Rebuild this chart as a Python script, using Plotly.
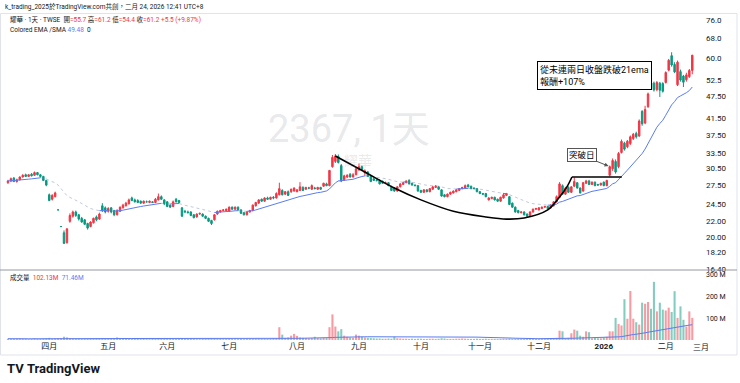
import pandas as pd
import numpy as np
import plotly.graph_objects as go

# ---------------- data ----------------
HOLIDAYS = ["2025-04-03", "2025-04-04", "2025-05-01", "2025-05-30", "2025-09-29",
            "2025-10-06", "2025-10-10", "2025-10-24", "2025-12-25", "2026-01-01",
            "2026-02-12", "2026-02-13", "2026-02-16", "2026-02-17", "2026-02-18",
            "2026-02-19", "2026-02-20"]
dates = pd.bdate_range("2025-03-12", "2026-02-24", freq="C", holidays=HOLIDAYS)

open_price = [
    # Mar
    27.9, 28.2, 28.7, 28.1, 28.4, 28.9, 29.3, 29.0, 29.4, 29.2, 29.7, 29.3, 29.0, 28.3,
    # Apr
    25.9, 25.2, 25.6, 23.6, 21.3, 20.5, 19.3, 22.0, 22.7, 23.3, 22.9, 22.4, 22.2, 21.7, 21.3, 21.8, 22.6, 22.3, 24.2, 23.9,
    # May
    23.4, 23.9, 23.5, 22.9, 23.4, 23.9, 24.2, 24.5, 25.4, 25.1, 25.0, 24.9, 24.6, 24.8, 24.7, 24.8, 24.7, 25.1, 25.6, 25.1,
    # Jun
    24.8, 24.3, 24.1, 25.2, 25.0, 23.9, 23.4, 23.3, 23.3, 22.9, 22.6, 23.0, 23.0, 22.7, 22.4, 22.1, 22.2, 23.0, 23.3, 23.5, 23.5,
    # Jul
    23.4, 24.0, 23.7, 24.0, 23.6, 23.2, 22.9, 23.3, 23.5, 24.2, 24.6, 25.2, 24.9, 25.4, 25.2, 25.5, 25.4, 25.9, 26.6, 26.0, 26.4, 26.4, 26.5,
    # Aug
    26.4, 26.6, 27.1, 26.8, 27.0, 26.8, 27.0, 26.8, 27.1, 27.3, 27.7, 27.4, 30.8, 31.8, 32.8, 31.0, 28.4, 28.9, 29.4, 28.9, 29.3,
    # Sep
    30.2, 30.8, 29.6, 29.8, 29.0, 28.6, 28.4, 28.3, 28.1, 27.9, 27.9, 27.2, 27.0, 26.5, 27.2, 27.6, 27.9, 28.3, 27.8, 27.5, 27.4,
    # Oct
    26.6, 26.3, 26.7, 26.4, 26.8, 27.1, 27.2, 26.7, 25.9, 25.6, 26.0, 26.2, 26.4, 26.6, 26.9, 27.0, 27.5, 27.3, 27.0, 26.9,
    # Nov
    26.4, 26.1, 26.1, 25.1, 25.3, 25.5, 25.2, 24.9, 25.4, 25.8, 25.6, 24.6, 24.0, 23.5, 23.2, 23.3, 23.0, 22.8, 23.3, 23.7,
    # Dec
    23.6, 23.8, 24.0, 24.1, 23.9, 24.2, 24.8, 25.5, 27.4, 26.0, 27.1, 26.3, 27.3, 27.9, 27.0, 26.5, 27.8, 28.2, 27.6, 28.0, 27.6, 27.5,
    # Jan
    28.0, 27.4, 29.2, 30.4, 31.8, 30.8, 33.6, 35.6, 34.8, 35.5, 36.6, 37.8, 37.2, 43.3, 40.3, 44.6, 51.6, 51.5, 49.5, 51.5, 51.4,
    # Feb
    51.7, 55.8, 61.0, 57.8, 51.0, 55.3, 53.8, 52.6, 53.6, 55.7,
]
high_price = [
    28.4, 28.8, 28.9, 28.6, 29.0, 29.4, 29.5, 29.4, 29.6, 29.9, 29.8, 29.4, 29.1, 28.4,
    26.1, 26.0, 26.4, 23.6, 21.3, 20.8, 21.05, 23.1, 23.5, 23.5, 23.0, 22.6, 22.3, 21.8, 22.0, 22.5, 22.8, 23.2, 24.6, 24.1,
    24.0, 24.0, 23.6, 23.7, 24.1, 24.5, 24.8, 25.3, 25.6, 25.3, 25.2, 25.0, 25.0, 25.0, 25.0, 24.9, 25.4, 26.1, 25.8, 25.2,
    24.9, 24.4, 25.0, 25.4, 25.1, 24.0, 23.6, 23.5, 23.4, 23.0, 23.1, 23.2, 23.1, 22.8, 22.5, 22.2, 23.0, 23.5, 23.6, 23.7, 23.8,
    24.1, 24.1, 24.1, 24.1, 23.7, 23.3, 23.4, 23.6, 24.4, 24.8, 25.2, 25.3, 25.5, 25.6, 25.6, 25.7, 26.3, 27.9, 26.8, 26.5, 26.6, 26.9, 27.1,
    26.8, 28.0, 27.3, 27.2, 27.2, 27.6, 27.2, 27.2, 27.2, 27.9, 27.9, 30.1, 33.1, 33.3, 33.2, 31.3, 29.3, 29.4, 29.6, 29.6, 30.6,
    31.4, 31.0, 30.3, 30.0, 29.2, 28.8, 28.6, 28.5, 28.3, 28.1, 28.0, 27.4, 27.1, 27.3, 27.8, 28.0, 28.3, 28.5, 27.9, 27.6, 27.5,
    26.7, 26.8, 26.8, 27.0, 27.3, 27.5, 27.3, 26.8, 26.0, 26.1, 26.4, 26.6, 26.8, 27.0, 27.2, 27.6, 27.7, 27.4, 27.1, 27.0,
    26.5, 26.2, 26.2, 25.5, 25.6, 25.6, 25.3, 25.6, 26.2, 26.2, 25.7, 24.7, 24.1, 23.6, 23.4, 23.4, 23.1, 23.4, 23.8, 23.9,
    24.0, 24.1, 24.2, 24.2, 24.4, 24.9, 25.8, 28.0, 27.6, 27.2, 27.3, 27.3, 28.8, 28.0, 27.1, 28.0, 28.4, 28.4, 28.1, 28.1, 27.7, 27.9,
    28.1, 28.4, 31.0, 32.4, 32.2, 33.7, 36.4, 35.9, 36.3, 37.3, 37.9, 38.2, 41.2, 43.6, 44.8, 48.6, 52.5, 52.0, 52.2, 51.9, 51.8,
    55.4, 59.8, 62.3, 58.6, 59.2, 56.0, 54.2, 54.9, 56.2, 61.2,
]
low_price = [
    27.7, 28.0, 28.0, 27.9, 28.3, 28.8, 28.9, 28.9, 29.0, 29.1, 29.2, 28.8, 28.2, 27.3,
    24.9, 25.0, 25.5, 23.6, 21.3, 19.15, 19.15, 21.8, 22.5, 22.6, 22.1, 21.8, 21.5, 20.9, 21.2, 21.7, 22.0, 22.2, 23.3, 23.1,
    23.2, 23.1, 22.7, 22.8, 23.3, 23.8, 24.1, 24.4, 24.9, 24.7, 24.6, 24.5, 24.5, 24.7, 24.6, 24.6, 24.6, 25.0, 25.1, 24.3,
    24.0, 23.9, 24.0, 24.7, 24.6, 22.6, 23.2, 23.1, 22.7, 22.4, 22.5, 22.9, 22.6, 22.3, 21.9, 21.5, 22.1, 22.9, 23.2, 23.4, 23.4,
    23.3, 23.6, 23.6, 23.5, 23.0, 22.8, 22.8, 23.2, 23.4, 24.1, 24.5, 24.8, 24.8, 25.1, 25.1, 25.2, 25.3, 25.8, 25.8, 25.9, 25.7, 26.2, 26.4,
    26.3, 26.5, 26.5, 26.7, 26.8, 26.7, 26.8, 26.7, 26.7, 27.2, 27.3, 27.3, 30.6, 31.5, 31.4, 28.0, 28.2, 28.7, 28.8, 28.8, 29.2,
    30.0, 30.0, 29.1, 28.9, 28.0, 28.2, 28.1, 27.6, 27.7, 27.7, 27.3, 26.5, 26.4, 26.4, 27.1, 27.5, 27.8, 27.6, 27.4, 27.3, 26.4,
    26.2, 26.2, 26.3, 26.3, 26.7, 27.0, 26.7, 25.6, 25.5, 25.5, 25.9, 26.1, 26.3, 26.5, 26.8, 26.9, 27.1, 26.8, 26.8, 26.3,
    26.0, 25.9, 25.5, 25.0, 25.2, 25.0, 24.8, 24.8, 25.3, 25.7, 24.3, 23.9, 23.2, 23.1, 23.1, 22.8, 22.5, 22.7, 23.2, 23.6,
    23.5, 23.7, 23.9, 23.7, 23.8, 24.1, 24.7, 25.4, 25.9, 25.9, 26.2, 26.2, 27.2, 26.9, 26.1, 26.4, 27.7, 27.5, 27.5, 27.3, 27.4, 27.4,
    27.3, 27.3, 29.0, 30.0, 29.5, 30.5, 33.4, 34.0, 34.5, 35.2, 36.3, 36.6, 37.0, 39.6, 40.0, 44.2, 49.6, 48.9, 49.0, 47.3, 48.6,
    51.4, 55.4, 57.0, 54.8, 50.6, 52.0, 50.3, 52.0, 53.2, 54.4,
]
close_price = [
    28.2, 28.6, 28.1, 28.4, 28.9, 29.2, 29.0, 29.3, 29.1, 29.7, 29.3, 29.0, 28.3, 27.5,
    25.0, 25.8, 26.2, 23.6, 21.3, 19.2, 21.0, 22.8, 23.3, 22.8, 22.3, 21.9, 21.6, 21.1, 21.9, 22.4, 22.2, 23.0, 23.5, 23.3,
    23.8, 23.3, 22.9, 23.5, 24.0, 24.3, 24.6, 25.1, 25.0, 24.8, 24.7, 24.6, 24.9, 24.8, 24.9, 24.7, 25.2, 25.6, 25.2, 24.5,
    24.1, 24.0, 24.8, 24.8, 24.7, 22.7, 23.3, 23.2, 22.8, 22.5, 23.0, 23.1, 22.7, 22.4, 22.0, 21.7, 22.9, 23.4, 23.5, 23.6, 23.7,
    24.0, 23.7, 24.0, 23.6, 23.1, 22.9, 23.3, 23.5, 24.3, 24.7, 25.1, 24.9, 25.4, 25.2, 25.5, 25.4, 26.1, 26.9, 25.9, 26.4, 25.8, 26.8, 27.0,
    26.7, 27.2, 26.6, 27.1, 27.0, 27.4, 26.9, 27.1, 26.8, 27.8, 27.4, 30.1, 32.6, 32.9, 31.6, 28.2, 29.1, 29.2, 28.9, 29.3, 30.4,
    30.8, 30.2, 30.0, 29.0, 28.1, 28.3, 28.3, 27.7, 27.8, 27.9, 27.4, 26.6, 26.5, 27.2, 27.7, 27.9, 28.2, 27.7, 27.5, 27.4, 26.5,
    26.3, 26.7, 26.4, 26.9, 27.2, 27.3, 26.8, 25.7, 25.6, 26.0, 26.3, 26.5, 26.7, 26.9, 27.1, 27.4, 27.2, 26.9, 26.9, 26.4,
    26.1, 26.0, 25.6, 25.4, 25.5, 25.1, 24.9, 25.5, 25.9, 26.1, 24.4, 24.0, 23.3, 23.2, 23.3, 22.9, 22.7, 23.3, 23.7, 23.8,
    23.9, 24.0, 24.1, 23.8, 24.3, 24.8, 25.6, 27.7, 26.0, 27.0, 26.3, 27.2, 28.1, 27.0, 26.2, 27.9, 28.2, 27.6, 28.0, 27.4, 27.5, 27.8,
    27.4, 28.3, 30.8, 32.0, 29.8, 33.4, 36.0, 34.3, 36.0, 37.0, 37.6, 37.0, 40.8, 40.1, 43.8, 48.2, 49.9, 49.4, 51.7, 49.3, 49.0,
    55.0, 59.3, 57.6, 55.2, 58.6, 52.5, 51.8, 54.2, 55.7, 61.2,
]
volume_m = [
    6, 5, 5, 6, 7, 6, 5, 5, 6, 7, 5, 5, 6, 8,
    10, 6, 7, 8, 9, 15, 12, 9, 7, 6, 6, 5, 6, 5, 6, 5, 6, 7, 9, 6,
    5, 6, 6, 12, 8, 7, 6, 7, 6, 5, 5, 4, 5, 4, 4, 5, 6, 9, 6, 6,
    6, 5, 5, 6, 5, 9, 6, 5, 5, 5, 4, 4, 5, 5, 6, 7, 6, 5, 5, 4, 5,
    5, 5, 4, 4, 5, 4, 5, 5, 6, 6, 7, 5, 6, 5, 6, 7, 9, 59, 25, 10, 12, 20, 28,
    19, 12, 10, 9, 8, 9, 15, 9, 8, 10, 9, 59, 118, 62, 40, 50, 20, 15, 12, 10, 25,
    20, 15, 12, 10, 9, 8, 7, 7, 6, 6, 7, 6, 15, 8, 7, 6, 6, 5, 6, 5, 6,
    6, 5, 5, 6, 6, 5, 6, 8, 7, 5, 5, 5, 6, 6, 7, 6, 5, 5, 5, 6,
    5, 5, 6, 5, 5, 5, 4, 5, 6, 6, 7, 6, 6, 5, 5, 5, 6, 5, 5, 5,
    5, 5, 5, 5, 6, 8, 10, 43, 40, 8, 10, 31, 48, 43, 20, 15, 40, 36, 8, 12, 8, 8,
    12, 15, 40, 40, 102, 74, 67, 188, 98, 226, 98, 82, 71, 172, 167, 175, 144, 268, 132, 172, 140,
    136, 149, 129, 225, 102, 155, 93, 62, 132, 102,
]

price_ticks = [16.40, 18.20, 20.00, 22.00, 24.50, 27.50, 30.50, 33.50, 37.50, 41.50, 47.50, 52.5, 60.0, 68.0, 76.0]
price_tick_text = ["16.40", "18.20", "20.00", "22.00", "24.50", "27.50", "30.50", "33.50", "37.50",
                   "41.50", "47.50", "52.5", "60.0", "68.0", "76.0"]
vol_ticks = [100, 200, 300]
vol_tick_text = ["100 M", "200 M", "300 M"]
month_names = {1: "<b>2026</b>", 2: "二月", 3: "三月", 4: "四月", 5: "五月", 6: "六月", 7: "七月",
               8: "八月", 9: "九月", 10: "十月", 11: "十一月", 12: "十二月"}

# drawings (user-drawn cup & handle), in bar-index / price coordinates
cup_x = [111, 121, 131, 140, 151, 162, 169, 175, 183, 187, 189.5, 191.2]
cup_y = [32.9, 29.8, 27.0, 25.1, 23.4, 22.6, 22.3, 22.45, 23.6, 25.55, 27.2, 28.9]
handle_x = [191.2, 208.1]
handle_y = [28.9, 28.9]

n = len(close_price)
assert len(dates) == n, (len(dates), n)
assert len(open_price) == len(high_price) == len(low_price) == len(volume_m) == n
idx = list(range(n))

UP = "#f23645"
DN = "#089981"
BLUE = "#5b7cf0"
FONT = "Roboto, 'Noto Sans CJK TC', sans-serif"
TXT = "#131722"

# month ticks
tickvals, ticktext = [], []
for i in range(1, n):
    if dates[i].month != dates[i - 1].month:
        tickvals.append(i)
        ticktext.append(month_names[dates[i].month])

# colored EMA 21 (blue when rising, faint when falling)
ema = pd.Series(close_price).ewm(span=21, adjust=False).mean().tolist()
rising = [False] + [ema[i] > ema[i - 1] for i in range(1, n)]
up_y, dn_y = [], []
for i in range(n):
    seg_in_up = i > 0 and rising[i]
    seg_out_up = i < n - 1 and rising[i + 1]
    seg_in_dn = i > 0 and not rising[i]
    seg_out_dn = i < n - 1 and not rising[i + 1]
    up_y.append(ema[i] if (seg_in_up or seg_out_up) else None)
    dn_y.append(ema[i] if (seg_in_dn or seg_out_dn) else None)

vol_ma = pd.Series(volume_m, dtype=float).rolling(60, min_periods=1).mean().tolist()
vol_colors = ["rgba(242,54,69,0.5)" if c >= o else "rgba(8,153,129,0.5)"
              for o, c in zip(open_price, close_price)]

fig = go.Figure()
fig.add_trace(go.Scatter(x=idx, y=dn_y, mode="lines", connectgaps=False,
                         line=dict(color="rgba(120,130,190,0.45)", width=1, dash="dot"),
                         hoverinfo="skip", showlegend=False))
fig.add_trace(go.Scatter(x=idx, y=up_y, mode="lines", connectgaps=False,
                         line=dict(color=BLUE, width=1), hoverinfo="skip", showlegend=False))
fig.add_trace(go.Candlestick(
    x=idx, open=open_price, high=high_price, low=low_price, close=close_price,
    increasing=dict(line=dict(color=UP, width=1), fillcolor=UP),
    decreasing=dict(line=dict(color=DN, width=1), fillcolor=DN),
    whiskerwidth=0, showlegend=False))
fig.add_trace(go.Scatter(x=cup_x, y=cup_y, mode="lines", line=dict(color="#000000", width=1.6, shape="spline"),
                         hoverinfo="skip", showlegend=False))
fig.add_trace(go.Scatter(x=handle_x, y=handle_y, mode="lines", line=dict(color="#000000", width=1.6),
                         hoverinfo="skip", showlegend=False))
fig.add_trace(go.Bar(x=idx, y=volume_m, marker=dict(color=vol_colors, line=dict(width=0)),
                     xaxis="x2", yaxis="y2", showlegend=False))
fig.add_trace(go.Scatter(x=idx, y=vol_ma, mode="lines", line=dict(color=BLUE, width=1),
                         xaxis="x2", yaxis="y2", hoverinfo="skip", showlegend=False))

W, H = 740, 383
ML, MR, MT, MB = 0, 43, 14, 43
PW, PH = W - ML - MR, H - MT - MB


def px(x):
    return (x - ML) / PW


def py(y):
    return (H - MB - y) / PH


xr = [-2.7, 233.6]
fig.update_layout(
    width=W, height=H, margin=dict(l=ML, r=MR, t=MT, b=MB),
    paper_bgcolor="white", plot_bgcolor="white",
    font=dict(family=FONT, color=TXT, size=8),
    bargap=0.3, showlegend=False,
    xaxis=dict(domain=[0, 1], range=xr, anchor="y", showticklabels=False, showgrid=False,
               zeroline=False, rangeslider=dict(visible=False), fixedrange=True),
    xaxis2=dict(domain=[0, 1], range=xr, anchor="y2", matches="x", tickvals=tickvals, ticktext=ticktext,
                showgrid=False, zeroline=False, ticks="", tickfont=dict(size=8, color=TXT)),
    yaxis=dict(domain=[py(270), 1], type="log", range=[np.log10(16.4) - 0.0027, np.log10(76) + 0.016],
               side="right", tickvals=price_ticks, ticktext=price_tick_text, showgrid=False,
               zeroline=False, ticks="", ticklabelstandoff=8, tickfont=dict(size=8, color=TXT)),
    yaxis2=dict(domain=[0, py(271)], range=[0, 318], side="right", tickvals=vol_ticks,
                ticktext=vol_tick_text, showgrid=False, zeroline=False, ticks="",
                ticklabelstandoff=8, tickfont=dict(size=7, color=TXT)),
)

shapes = [
    dict(type="rect", xref="paper", yref="paper", x0=px(0.5), x1=px(737), y0=py(355), y1=py(13.5),
         line=dict(color="#e0e3eb", width=1)),
    dict(type="line", xref="paper", yref="paper", x0=px(0), x1=px(737), y0=py(270), y1=py(270),
         line=dict(color="#9598a1", width=1)),
]
fig.update_layout(shapes=shapes)

last_o, last_h, last_l, last_c = open_price[-1], high_price[-1], low_price[-1], close_price[-1]
chg = last_c - close_price[-2]
pct = chg / close_price[-2] * 100
R = UP
legend1 = (f"耀華 · 1天 · TWSE &nbsp;開<span style='color:{R}'>={last_o:.1f}</span> "
           f"高<span style='color:{R}'>={last_h:.1f}</span> 低<span style='color:{R}'>={last_l:.1f}</span> "
           f"收<span style='color:{R}'>={last_c:.1f} {chg:+.1f} ({pct:+.2f}%)</span>")
legend2 = f"Colored EMA /SMA <span style='color:{BLUE}'>49.48</span> &nbsp;0"
vol_legend = f"成交量 &nbsp;<span style='color:{R}'>102.13M</span> &nbsp;<span style='color:{BLUE}'>71.46M</span>"

ann = [
    dict(text="k_trading_2025於TradingView.com共創，二月 24, 2026 12:41 UTC+8", x=px(3), y=py(7),
         xanchor="left", yanchor="middle", font=dict(size=6.5, color=TXT)),
    dict(text=legend1, x=px(8), y=py(19), xanchor="left", yanchor="middle", font=dict(size=6.5, color=TXT)),
    dict(text=legend2, x=px(8), y=py(30), xanchor="left", yanchor="middle", font=dict(size=6.5, color=TXT)),
    dict(text="2367, 1天", x=px(349), y=py(129), xanchor="center", yanchor="middle",
         font=dict(size=38, color="rgba(120,123,134,0.18)")),
    dict(text="耀華", x=px(358), y=py(161), xanchor="center", yanchor="middle",
         font=dict(size=14, color="rgba(120,123,134,0.18)")),
    dict(text=vol_legend, x=px(8), y=py(277), xanchor="left", yanchor="middle", font=dict(size=6.5, color=TXT)),
    dict(text="三月", x=px(701), y=py(347), xanchor="center", yanchor="middle", font=dict(size=8, color=TXT)),
    dict(text="<b>TV</b> <b>TradingView</b>", x=px(5), y=py(368), xanchor="left", yanchor="middle",
         font=dict(size=13, color="#131722")),
]
for a in ann:
    a.update(xref="paper", yref="paper", showarrow=False)

ann.append(dict(text="從未連兩日收盤跌破21ema<br>報酬+107%", xref="x", yref="y",
                x=179.3, y=np.log10(59.0), xanchor="left", yanchor="top", align="left",
                showarrow=False, bordercolor="#000000", borderwidth=1, borderpad=2, bgcolor="white",
                font=dict(size=9, color="#000000")))
ann.append(dict(text="突破日", xref="x", yref="y", x=203.6, y=np.log10(30.9), ax=-27, ay=-11,
                showarrow=True, arrowhead=2, arrowsize=0.8, arrowwidth=1, arrowcolor="#555555",
                bordercolor="#555555", borderwidth=1, borderpad=1, bgcolor="white",
                font=dict(size=8.5, color="#000000")))
fig.update_layout(annotations=ann)

fig.write_html("out.html", config={"displayModeBar": False},
               post_script="document.body.style.margin='0';document.body.style.padding='0';")
